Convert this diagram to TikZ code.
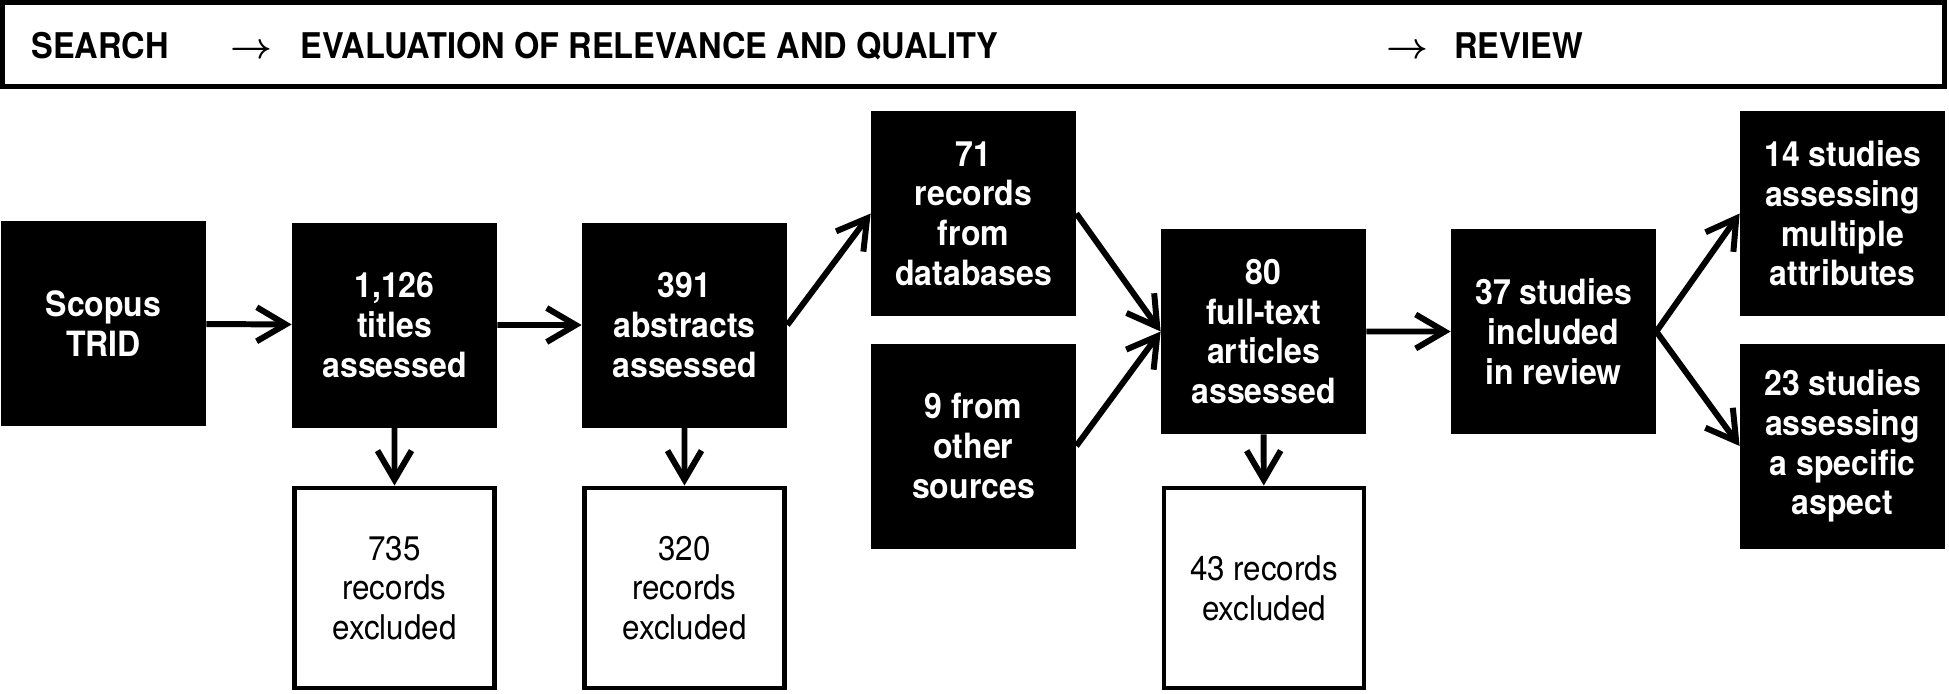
\documentclass[tikz,border=0pt]{standalone}
\usepackage{fontspec}
\setmainfont{TeX Gyre Heros}[FakeStretch=0.92]
\usetikzlibrary{arrows.meta}

\begin{document}
\begin{tikzpicture}[scale=0.2]
\tikzstyle{every node}+=[inner sep=0pt]
\tikzstyle{dark}=[fill=black, text=white, minimum width=4.1cm, minimum height=4.1cm, align=center, font=\fontsize{19.8}{22.6}\selectfont\bfseries]
\tikzstyle{light}=[draw=black, line width=2.8pt, fill=white, minimum width=4.0cm, minimum height=4.0cm, align=center, font=\fontsize{19.4}{22.6}\selectfont]
\tikzstyle{link}=[black, line width=3.4pt, -{Straight Barb[length=5.8mm,width=6.8mm]}]
\tikzstyle{head}=[anchor=base west, font=\fontsize{20.15}{22.6}\selectfont\bfseries\boldmath]
\useasboundingbox (0,0) rectangle (194.9,-69.3);
\draw [black, line width=2.6pt] (0.25,-0.25) rectangle (194.45,-8.65);
\node [head] (search) at (3.1,-5.84) {SEARCH};
\node [head] (arrA) at (23.0,-5.84) {$\rightarrow$};
\node [head] (eval) at (30.0,-5.84) {EVALUATION OF RELEVANCE AND QUALITY};
\node [head] (arrB) at (138.6,-5.84) {$\rightarrow$};
\node [head] (review) at (145.4,-5.84) {REVIEW};
\node [dark] (scopus) at (10.35,-32.35) {Scopus\\TRID};
\node [dark] (titles) at (39.45,-32.5) {1,126\\titles\\assessed};
\node [dark] (abstracts) at (68.45,-32.5) {391\\abstracts\\assessed};
\node [dark] (databases) at (97.35,-21.35) {71\\records\\from\\databases};
\node [dark] (others) at (97.35,-44.6) {9 from\\other\\sources};
\node [dark] (fulltext) at (126.35,-33.15) {80\\full-text\\articles\\assessed};
\node [dark] (included) at (155.35,-33.15) {37 studies\\included\\in review};
\node [dark] (multiple) at (184.25,-21.35) {14 studies\\assessing\\multiple\\attributes};
\node [dark] (specific) at (184.25,-44.6) {23 studies\\assessing\\a specific\\aspect};
\node [light] (exA) at (39.45,-58.8) {735\\records\\excluded};
\node [light] (exB) at (68.45,-58.8) {320\\records\\excluded};
\node [light] (exC) at (126.4,-58.8) {43 records\\excluded};
\draw [link] (scopus) -- (titles);
\draw [link] (titles) -- (abstracts);
\draw [link] (abstracts.east) -- (databases.west);
\draw [link] (databases.east) -- (fulltext.west);
\draw [link] (others.east) -- (fulltext.west);
\draw [link] (fulltext) -- (included);
\draw [link] (included.east) -- (multiple.west);
\draw [link] (included.east) -- (specific.west);
\draw [link] (titles) -- (exA);
\draw [link] (abstracts) -- (exB);
\draw [link] (fulltext) -- (exC);
\end{tikzpicture}
\end{document}
